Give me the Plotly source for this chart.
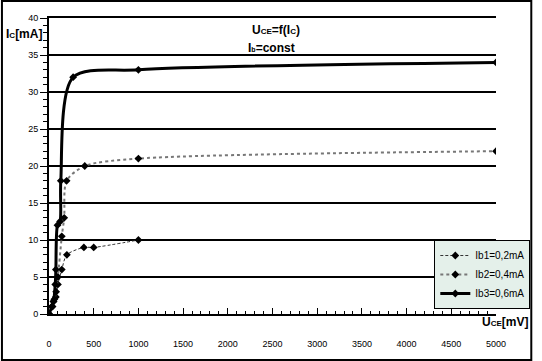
import plotly.graph_objects as go

# ---- data ----
u_ib1 = [0, 30, 50, 77, 100, 143, 200, 390, 500, 1000]
i_ib1 = [0, 1.0, 1.7, 2.3, 4.0, 6.0, 8.0, 9.0, 9.0, 10.0]

u_ib2 = [0, 40, 60, 80, 100, 143, 170, 197, 400, 1000, 5000]
i_ib2 = [0, 1.0, 2.0, 3.0, 5.0, 10.5, 13.0, 18.0, 20.0, 21.0, 22.0]

u_ib3 = [0, 33, 51, 70, 77, 95, 124, 132, 270, 1000, 5000]
i_ib3 = [0, 1.0, 1.7, 4.0, 6.0, 12.0, 12.5, 18.0, 32.0, 33.0, 34.0]

names = ["Ib1=0,2mA", "Ib2=0,4mA", "Ib3=0,6mA"]
x_ticks = [0, 500, 1000, 1500, 2000, 2500, 3000, 3500, 4000, 4500, 5000]
y_ticks = [0, 5, 10, 15, 20, 25, 30, 35, 40]

FONT = "Arial, Liberation Sans, sans-serif"

fig = go.Figure()
fig.add_trace(go.Scatter(
    x=u_ib1, y=i_ib1, name=names[0], mode="lines+markers",
    line=dict(color="#333333", width=1, dash="3px,2px", shape="spline", smoothing=0.8),
    marker=dict(symbol="diamond", size=6, color="black"),
))
fig.add_trace(go.Scatter(
    x=u_ib2, y=i_ib2, name=names[1], mode="lines+markers",
    line=dict(color="#777777", width=2, dash="dot", shape="spline", smoothing=0.8),
    marker=dict(symbol="diamond", size=6, color="black"),
))
fig.add_trace(go.Scatter(
    x=u_ib3, y=i_ib3, name=names[2], mode="lines+markers",
    line=dict(color="black", width=3, shape="spline", smoothing=0.8),
    marker=dict(symbol="diamond", size=6, color="black"),
))

L, R, T, B = 49, 37, 18, 47
W, H = 542, 361
pw, ph = W - L - R, H - T - B

def px(xpix):
    return (xpix - L) / pw

def py(ypix):
    return (H - B - ypix) / ph

fig.update_layout(
    width=W, height=H,
    margin=dict(l=L, r=R, t=T, b=B, pad=0),
    paper_bgcolor="white", plot_bgcolor="white",
    font=dict(family=FONT, size=9, color="black"),
    showlegend=True,
    legend=dict(
        x=px(540), xanchor="right", y=py(240), yanchor="top",
        bgcolor="#E4F0EA", bordercolor="black", borderwidth=1,
        font=dict(family=FONT, size=10, color="black"),
        tracegroupgap=0, itemwidth=30,
    ),
    xaxis=dict(
        range=[0, 5000], tickmode="array", tickvals=x_ticks,
        ticks="inside", ticklen=6, tickwidth=1, tickcolor="black",
        minor=dict(dtick=100, tick0=0, ticks="inside", ticklen=3, tickcolor="black", showgrid=False),
        showgrid=False, zeroline=False,
        showline=True, linecolor="black", linewidth=2, mirror=True,
        ticklabelstandoff=20,
        tickfont=dict(family=FONT, size=9, color="black"),
        fixedrange=True,
    ),
    yaxis=dict(
        range=[0, 40], tickmode="array", tickvals=y_ticks,
        ticks="outside", ticklen=7, tickwidth=1, tickcolor="black",
        minor=dict(dtick=1, tick0=0, ticks="outside", ticklen=4, tickcolor="black", showgrid=False),
        showgrid=True, gridcolor="black", gridwidth=2, zeroline=False,
        showline=True, linecolor="black", linewidth=2,
        tickfont=dict(family=FONT, size=9, color="black"),
        fixedrange=True,
    ),
    shapes=[dict(
        type="rect", xref="paper", yref="paper",
        x0=px(1), x1=px(541), y0=py(360), y1=py(1),
        line=dict(color="black", width=2), fillcolor="rgba(0,0,0,0)", layer="above",
    )],
    annotations=[
        dict(text="I<span style='font-size:8px'>C</span>[mA]", xref="paper", yref="paper",
             x=px(3), y=py(34), xanchor="left", yanchor="middle", showarrow=False,
             font=dict(family=FONT, size=12, color="black", weight="bold")),
        dict(text="U<span style='font-size:8px'>CE</span>[mV]", xref="paper", yref="paper",
             x=px(540), y=py(322), xanchor="right", yanchor="middle", showarrow=False,
             font=dict(family=FONT, size=12, color="black", weight="bold")),
        dict(text="U<span style='font-size:8px'>CE</span>=f(I<span style='font-size:8px'>C</span>)",
             xref="paper", yref="paper", x=px(254), y=py(30), xanchor="left", yanchor="middle",
             showarrow=False, font=dict(family=FONT, size=12, color="black", weight="bold")),
        dict(text="I<span style='font-size:7px'>b</span>=const",
             xref="paper", yref="paper", x=px(250), y=py(48), xanchor="left", yanchor="middle",
             showarrow=False, font=dict(family=FONT, size=12, color="black", weight="bold")),
    ],
)

fig.write_html("out.html", config={"displayModeBar": False})
